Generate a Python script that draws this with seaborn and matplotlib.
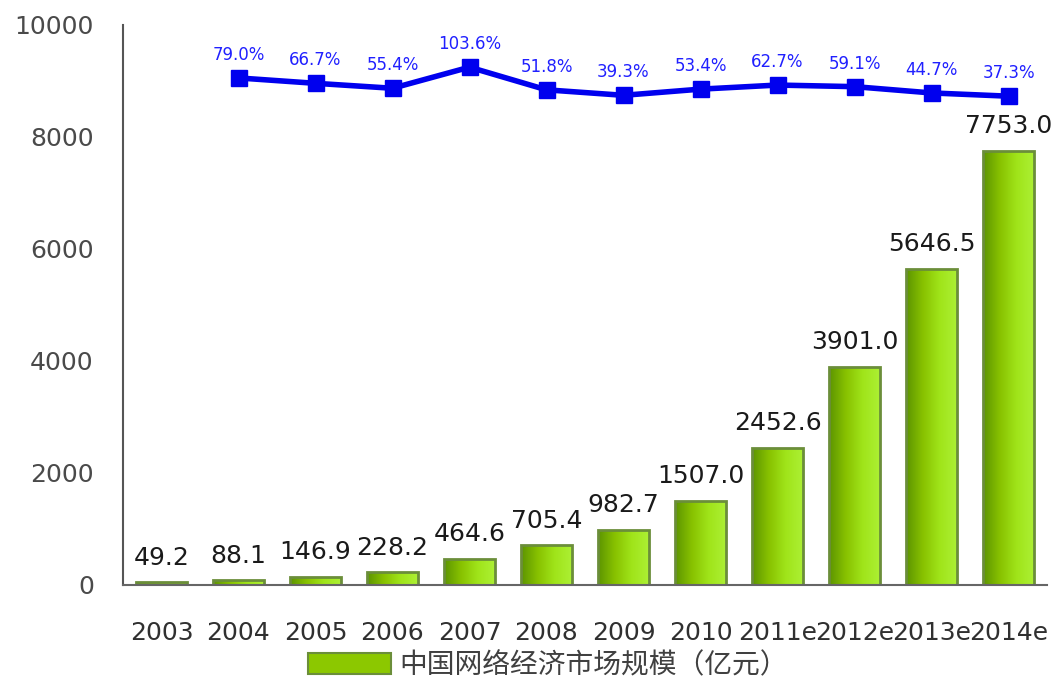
import matplotlib
matplotlib.use("Agg")
import matplotlib.pyplot as plt
import seaborn as sns
import numpy as np
import pandas as pd
from matplotlib.colors import LinearSegmentedColormap
from matplotlib.patches import Patch

years = ["2003", "2004", "2005", "2006", "2007", "2008", "2009", "2010",
         "2011e", "2012e", "2013e", "2014e"]
market = [49.2, 88.1, 146.9, 228.2, 464.6, 705.4, 982.7, 1507.0,
          2452.6, 3901.0, 5646.5, 7753.0]
growth_years = years[1:]
growth = [79.0, 66.7, 55.4, 103.6, 51.8, 39.3, 53.4, 62.7, 59.1, 44.7, 37.3]
legend_label = "中国网络经济市场规模（亿元）"

sns.set_theme(style="white")
plt.rcParams['font.family'] = ['DejaVu Sans', 'Noto Sans CJK SC']

fig = plt.figure(figsize=(10.54, 6.89), dpi=100)
ax = fig.add_axes([123/1054, 104/689, 924/1054, 560/689])

df = pd.DataFrame({"year": years, "value": market})
sns.barplot(data=df, x="year", y="value", ax=ax, width=0.66,
            color="#8cc800", edgecolor="#6b8e3a", linewidth=2.0, saturation=1)

cmap = LinearSegmentedColormap.from_list("g", ["#5c9400", "#88c200", "#a0e41a", "#acf034"])
grad = np.linspace(0, 1, 256).reshape(1, -1)
for p in ax.patches:
    x0, y0 = p.get_x(), p.get_y()
    w, h = p.get_width(), p.get_height()
    im = ax.imshow(grad, cmap=cmap, aspect="auto", extent=[x0, x0 + w, y0, y0 + h],
                   zorder=p.get_zorder() + 0.1)
    im.set_clip_path(p)
    p.set_facecolor("none")
    p.set_zorder(p.get_zorder() + 0.2)

for i, v in enumerate(market):
    ax.annotate(f"{v:.1f}", (i, v), xytext=(0, 9), textcoords="offset points",
                ha="center", va="bottom", fontsize=18, color="#1a1a1a")

ax.set_xlim(-0.5, 11.5)
ax.set_ylim(0, 10000)
ax.set_yticks([0, 2000, 4000, 6000, 8000, 10000])
ax.set_xlabel("")
ax.set_ylabel("")
ax.tick_params(axis="y", labelsize=18, labelcolor="#4a4a4a", pad=21, length=0)
ax.tick_params(axis="x", labelsize=18, labelcolor="#303030", pad=26, length=0)
for s in ["top", "right"]:
    ax.spines[s].set_visible(False)
ax.spines["left"].set_color("#555555")
ax.spines["left"].set_linewidth(1.5)
ax.spines["bottom"].set_color("#666666")
ax.spines["bottom"].set_linewidth(1.5)

ax2 = ax.twinx()
xs = [years.index(y) for y in growth_years]
ax2.plot(xs, growth, color="#0000ee", linewidth=4, marker="s", markersize=11)
for x, g in zip(xs, growth):
    ax2.annotate(f"{g:.1f}%", (x, g), xytext=(0, 10), textcoords="offset points",
                 ha="center", va="bottom", fontsize=12, color="#2020ff")
ax2.set_ylim(-1080, 200)
ax2.set_yticks([])
for s in ["top", "right", "left", "bottom"]:
    ax2.spines[s].set_visible(False)
ax2.set_xlim(-0.5, 11.5)

handle = Patch(facecolor="#8cc800", edgecolor="#6b8e3a", linewidth=1.5)
leg = fig.legend([handle], [legend_label], loc="center", bbox_to_anchor=(0.52, 24/689),
                 frameon=False, prop={"family": "Noto Sans CJK SC", "size": 20},
                 handlelength=3.0, handleheight=0.8, handletextpad=0.3)
for t in leg.get_texts():
    t.set_color("#404040")

fig.savefig("out.png", dpi=100)
